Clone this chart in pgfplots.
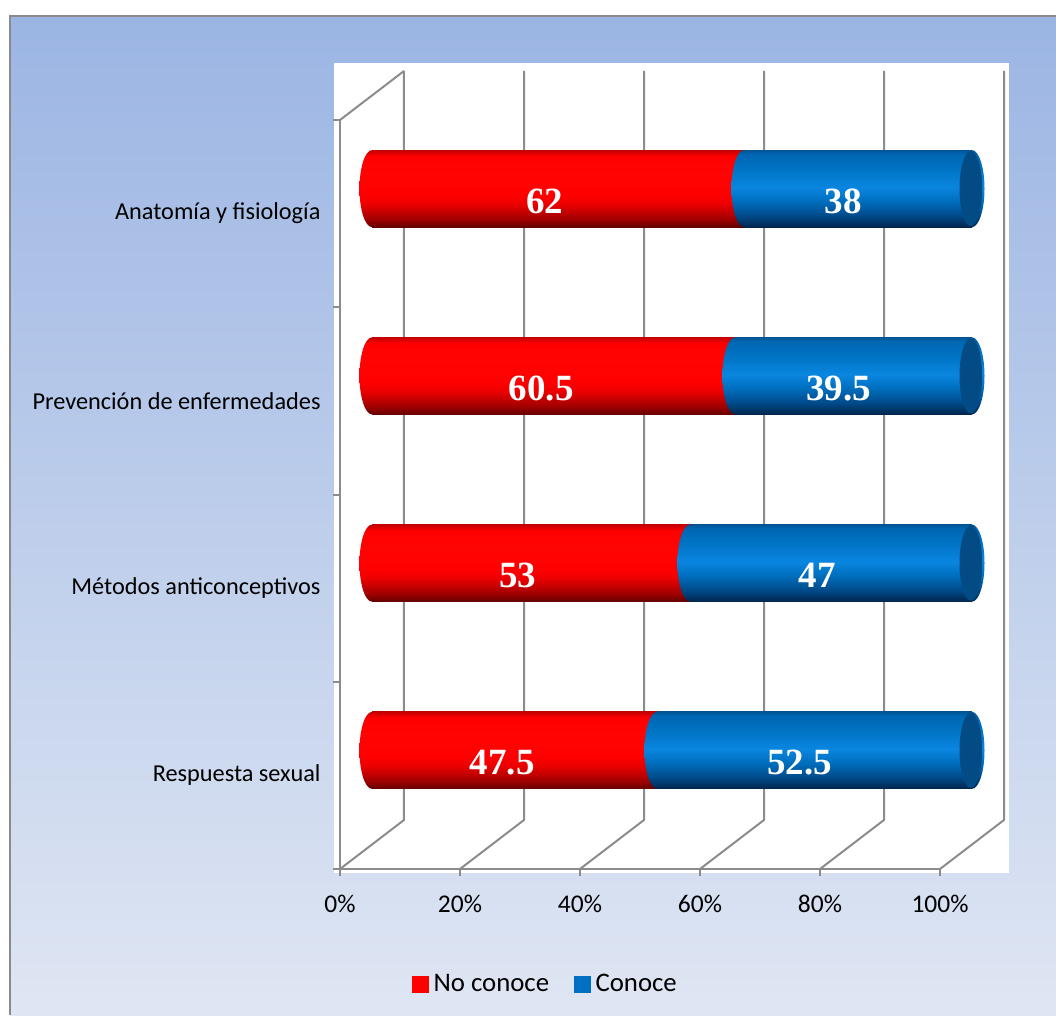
\documentclass[border=0pt]{standalone}
\usepackage{pgfplots}
\pgfplotsset{compat=1.18}
\usepackage{fontspec}
\setmainfont{Carlito}
\newfontfamily\numfont{Liberation Serif}
\definecolor{gridgray}{HTML}{8C8C8C}
\definecolor{bordergray}{HTML}{8A8A8A}
\definecolor{bgtop}{HTML}{9BB5E3}
\definecolor{bgbot}{HTML}{DFE6F3}
\definecolor{capblue}{HTML}{034B84}
\definecolor{legblue}{HTML}{0070C0}
% shading stops: the visible part of a pgf shading is 25bp (bottom) to 75bp (top)
\definecolor{r0}{HTML}{640000}
\definecolor{r1}{HTML}{9E0000}
\definecolor{r2}{HTML}{EB0000}
\definecolor{r3}{HTML}{FF0000}
\definecolor{r4}{HTML}{FF0404}
\definecolor{r5}{HTML}{C40000}
\pgfdeclareverticalshading{redcyl}{100bp}{color(0bp)=(r0); color(25bp)=(r0); color(30bp)=(r1); color(40bp)=(r2); color(46bp)=(r3); color(60bp)=(r4); color(71bp)=(r3); color(75bp)=(r5); color(100bp)=(r5)}
\definecolor{b0}{HTML}{00264D}
\definecolor{b1}{HTML}{004A8A}
\definecolor{b2}{HTML}{0070C0}
\definecolor{b3}{HTML}{0A86E0}
\definecolor{b4}{HTML}{0074C5}
\definecolor{b5}{HTML}{0066B2}
\definecolor{b6}{HTML}{005596}
\pgfdeclareverticalshading{bluecyl}{100bp}{color(0bp)=(b0); color(25bp)=(b0); color(32.5bp)=(b1); color(42.5bp)=(b2); color(51bp)=(b3); color(62.5bp)=(b4); color(72.5bp)=(b5); color(75bp)=(b6); color(100bp)=(b6)}
\pgfdeclareplotmark{capLred}{%
  \path[draw=none, shade, shading=redcyl] (3pt,38.5pt) -- (0pt,38.5pt) arc[start angle=90,end angle=270,x radius=12.5pt,y radius=38.5pt] -- (3pt,-38.5pt) -- cycle;}
\pgfdeclareplotmark{capLblue}{%
  \path[draw=none, shade, shading=bluecyl] (3pt,38.5pt) -- (0pt,38.5pt) arc[start angle=90,end angle=270,x radius=12.5pt,y radius=38.5pt] -- (3pt,-38.5pt) -- cycle;}
\pgfdeclareplotmark{capR}{%
  \path[draw=none, shade, shading=bluecyl] (0pt,0pt) ellipse[x radius=12.5pt,y radius=38.5pt];
  \path[draw=none, fill=capblue] (-1.2pt,0pt) ellipse[x radius=11.3pt,y radius=37.5pt];}
\pgfplotsset{barax/.style={at={(32pt,25pt)}, anchor=south west,
  scale only axis, width=600pt, height=749pt,
  xmin=0, xmax=100, ymin=0.5, ymax=4.5, hide axis, clip=false}}
\tikzset{vlab/.style={font=\numfont\bfseries\fontsize{37}{40}\selectfont, text=white, anchor=base, yshift=-24.5pt}}
% one stacked pair of cylinders per category: {No conoce}{Conoce}{category position}
\newcommand\barpair[3]{%
\begin{axis}[barax, xbar stacked, bar width=77pt]
\addplot[draw=none, shade, shading=redcyl] coordinates {(#1,#3)};
\addplot[draw=none, shade, shading=bluecyl] coordinates {(#2,#3)};
\end{axis}}
\begin{document}
\begin{tikzpicture}
\useasboundingbox (-340pt,-146pt) rectangle (716pt,869pt);
\fill[white] (-340pt,-146pt) rectangle (716pt,869pt);
\shade[top color=bgtop, bottom color=bgbot] (-330pt,-146pt) rectangle (716pt,853pt);
\draw[bordergray, line width=1.6pt] (-330pt,-146pt) -- (-330pt,853pt) -- (716pt,853pt);
\fill[white] (-6pt,-4pt) rectangle (669pt,806pt);
% front plane: axes, ticks, labels, walls, legend
\begin{axis}[
  at={(0pt,0pt)}, anchor=south west,
  scale only axis, width=600pt, height=749pt,
  xmin=0, xmax=100, ymin=0.5, ymax=4.5,
  axis lines*=left,
  axis line style={gridgray, line width=2.4pt},
  xtick={0,20,40,60,80,100},
  xticklabels={0\%,20\%,40\%,60\%,80\%,100\%},
  ytick={0.5,1.5,2.5,3.5,4.5},
  yticklabels={},
  extra y ticks={1,2,3,4},
  extra y tick labels={Respuesta sexual,Métodos anticonceptivos,Prevención de enfermedades,Anatomía y fisiología},
  extra y tick style={tick style={draw=none}},
  tick align=outside,
  major tick length=7pt,
  tick style={gridgray, line width=2pt},
  tick label style={text=black},
  yticklabel style={xshift=-9pt, font=\fontsize{24.3}{28}\selectfont},
  xticklabel style={yshift=-16pt, font=\fontsize{25.5}{28}\selectfont},
  clip=false,
  legend style={at={(0.3450,-0.1535)}, anchor=center, draw=none, fill=none,
    font=\fontsize{26.8}{30}\selectfont, legend columns=-1,
    /tikz/every even column/.append style={column sep=19pt},
    nodes={inner xsep=5.5pt}},
  legend image code/.code={\fill[#1] (0pt,-8pt) rectangle (16pt,8pt);},
]
\pgfplotsinvokeforeach{0,20,40,60,80,100}{
  \draw[gridgray, line width=2pt, line join=round] (axis cs:#1,0.5) -- ++(64pt,49pt) -- ++(0pt,749pt);
}
\draw[gridgray, line width=2pt] (axis cs:0,4.5) -- ++(64pt,49pt);
\addlegendimage{red}
\addlegendentry{No conoce}
\addlegendimage{legblue}
\addlegendentry{Conoce}
\end{axis}
% cylinders (mid depth)
\barpair{47.5}{52.5}{1}
\barpair{53}{47}{2}
\barpair{60.5}{39.5}{3}
\barpair{62}{38}{4}
% cylinder ends and value labels
\begin{axis}[barax]
\addplot[only marks, mark=capLred] coordinates {(0,1) (0,2) (0,3) (0,4)};
\addplot[only marks, mark=capLblue] coordinates {(47.5,1) (53,2) (60.5,3) (62,4)};
\addplot[only marks, mark=capR] coordinates {(100,1) (100,2) (100,3) (100,4)};
\node[vlab] at (axis cs:28.8,4) {62};
\node[vlab] at (axis cs:78.5,4) {38};
\node[vlab] at (axis cs:28.2,3) {60.5};
\node[vlab] at (axis cs:77.8,3) {39.5};
\node[vlab] at (axis cs:24.3,2) {53};
\node[vlab] at (axis cs:74.2,2) {47};
\node[vlab] at (axis cs:21.7,1) {47.5};
\node[vlab] at (axis cs:71.3,1) {52.5};
\end{axis}
\end{tikzpicture}
\end{document}
